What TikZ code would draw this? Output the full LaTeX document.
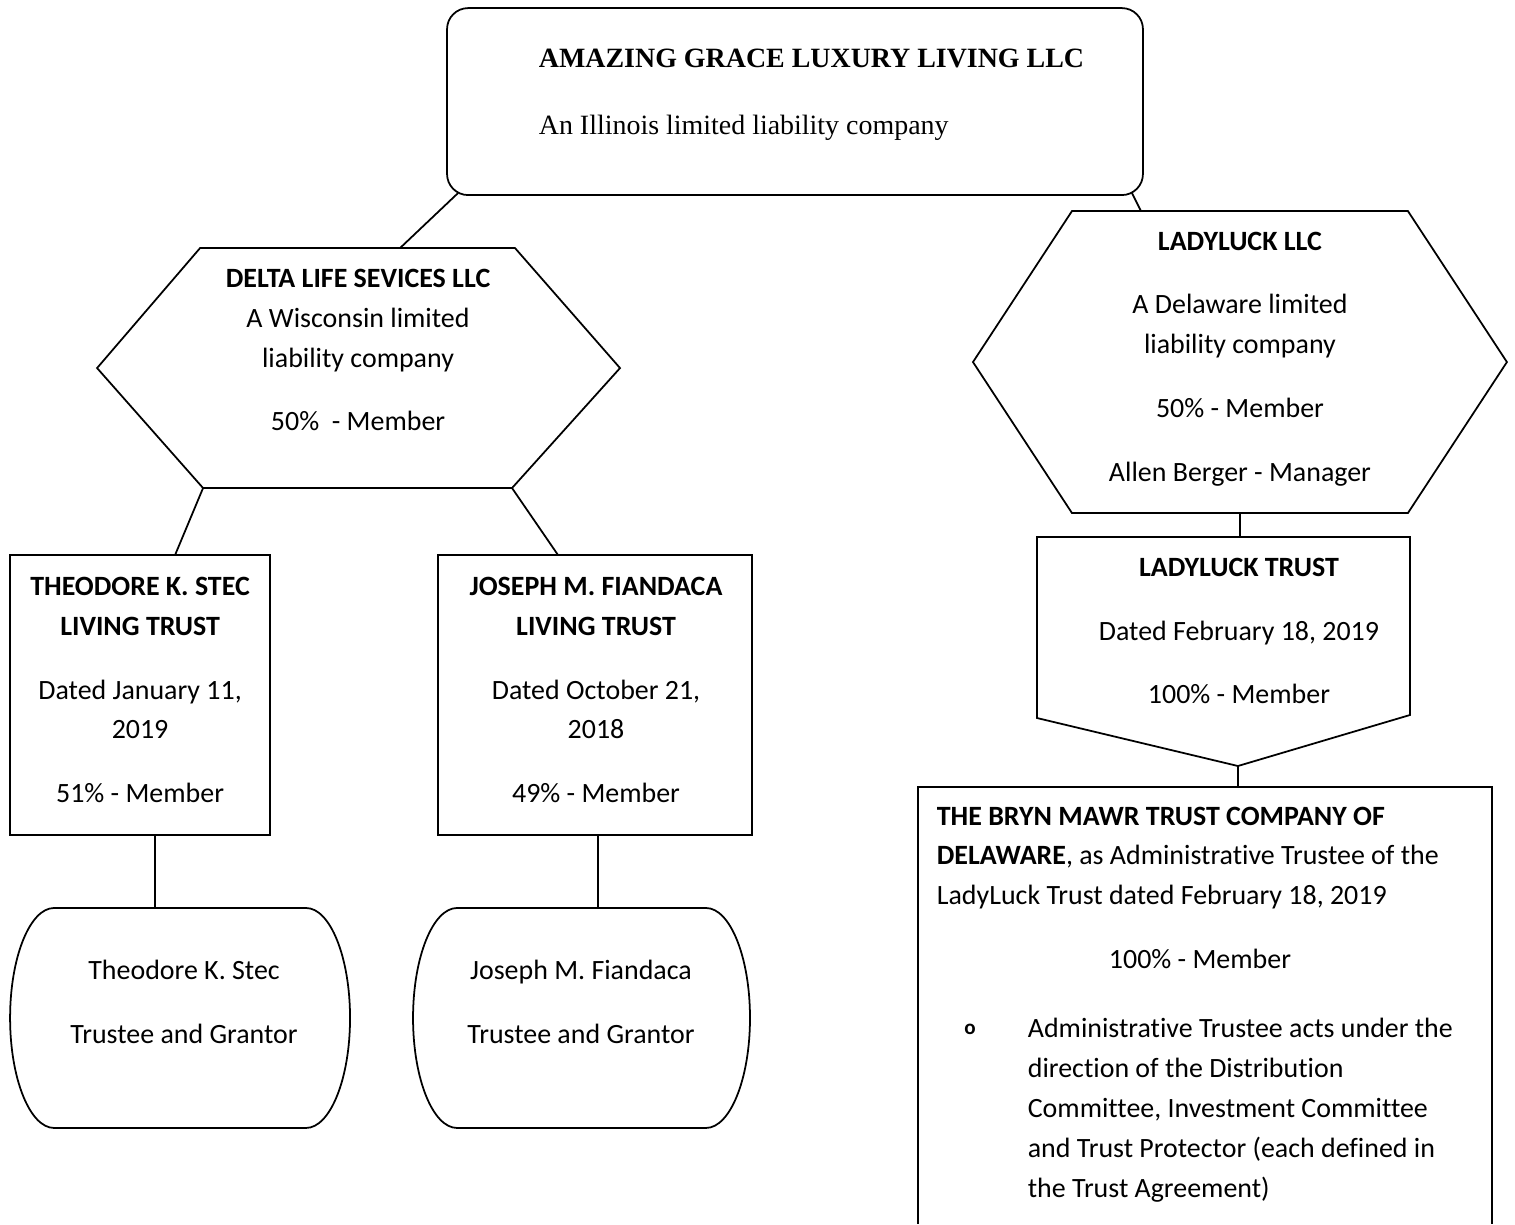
\documentclass[tikz,border=0pt]{standalone}
\usepackage{fontspec}
\setmainfont{Carlito}[Ligatures=NoCommon]
\newfontfamily\timesfont{Liberation Serif}
\usepackage{tikz}
\usetikzlibrary{calc}
\newcommand{\chartsize}{\fontsize{15.9}{22.7}\selectfont}

\begin{document}
\begin{tikzpicture}[x=0.02cm, y=-0.02cm, line width=1,
  boxtext/.style={inner sep=0, align=center, font=\chartsize},
  para/.style={inner sep=0, align=left, anchor=west, font=\chartsize},
  sertext/.style={inner sep=0, anchor=base west, font=\timesfont\chartsize}]

  \draw[white, line width=0.1] (0, 0) rectangle (1515, 1224);

  % Amazing Grace
  \draw[rounded corners=12] (447, 8) rectangle (1143, 195);
  \node[sertext, font=\timesfont\bfseries\chartsize] (agll) at (538, 67) {AMAZING GRACE LUXURY LIVING LLC};
  \node[sertext] (agll-state) at (538, 134) {An Illinois limited liability company};
  \coordinate (agll-sw) at (458, 193);
  \coordinate (agll-se) at (1132, 193);

  % Delta Life
  \draw (200, 248) -- (515, 248) -- (620, 368) -- (512, 488) -- (203, 488) -- (97, 368) -- cycle;
  \node[boxtext] (delta) at (358, 350) {\textbf{DELTA LIFE SEVICES LLC}\\A Wisconsin limited\\liability company\\[13.6pt]50\%\ \ - Member};
  \coordinate (delta-n) at (400, 248);
  \coordinate (delta-sw) at (203, 488);
  \coordinate (delta-se) at (512, 488);

  % Ladyluck LLC
  \draw (1072, 211) -- (1408, 211) -- (1507, 362) -- (1408, 513) -- (1072, 513) -- (973, 362) -- cycle;
  \node[boxtext] (lllc) at (1240, 359) {\textbf{LADYLUCK LLC}\\[13.6pt]A Delaware limited\\liability company\\[13.6pt]50\% - Member\\[13.6pt]Allen Berger - Manager};
  \coordinate (lllc-n) at (1141, 211);
  \coordinate (lllc-s) at (1240, 513);

  % living trusts
  \draw (10, 555) rectangle (270, 835);
  \node[boxtext] (tks) at (140, 690) {\textbf{THEODORE K. STEC}\\\textbf{LIVING TRUST}\\[13.6pt]Dated January 11,\\2019\\[13.6pt]51\% - Member};
  \coordinate (tks-n) at (175, 555);
  \coordinate (tks-s) at (155, 835);

  \draw (438, 555) rectangle (752, 835);
  \node[boxtext] (jmf) at (596, 690) {\textbf{JOSEPH M. FIANDACA}\\\textbf{LIVING TRUST}\\[13.6pt]Dated October 21,\\2018\\[13.6pt]49\% - Member};
  \coordinate (jmf-n) at (558, 555);
  \coordinate (jmf-s) at (598, 835);

  % trustees
  \foreach \l/\r in {10/350, 413/750} {
    \draw ({\l+44}, 908) -- ({\r-44}, 908) .. controls ({\r-20}, 908) and (\r, 957) .. (\r, 1018)
      .. controls (\r, 1079) and ({\r-20}, 1128) .. ({\r-44}, 1128) -- ({\l+44}, 1128)
      .. controls ({\l+20}, 1128) and (\l, 1079) .. (\l, 1018) .. controls (\l, 957) and ({\l+20}, 908) .. cycle;
  }
  \node[boxtext] (tks-role) at (184, 1002) {Theodore K. Stec\\[13.6pt]Trustee and Grantor};
  \node[boxtext] (jmf-role) at (581, 1002) {Joseph M. Fiandaca\\[13.6pt]Trustee and Grantor};
  \coordinate (tks-role-n) at (155, 908);
  \coordinate (jmf-role-n) at (598, 908);

  % Ladyluck trust
  \draw (1037, 537) -- (1410, 537) -- (1410, 715) -- (1238, 766) -- (1037, 718) -- cycle;
  \node[boxtext] (llt) at (1239, 631) {\textbf{LADYLUCK TRUST}\\[13.6pt]Dated February 18, 2019\\[13.6pt]100\% - Member};
  \coordinate (llt-n) at (1240, 537);
  \coordinate (llt-s) at (1238, 766);

  % Bryn Mawr
  \draw (918, 1224) -- (918, 787) -- (1492, 787) -- (1492, 1224);
  \node[para] (bmtc) at (936, 858) {\textbf{THE BRYN MAWR TRUST COMPANY OF}\\\textbf{DELAWARE}, as Administrative Trustee of the\\LadyLuck Trust dated February 18, 2019};
  \node[boxtext, anchor=base] (bmtc-share) at (1200, 969) {100\% - Member};
  \node[boxtext, anchor=base, font=\bfseries\fontsize{12}{14}\selectfont] (bullet) at (970, 1035) {o};
  \node[para] (bmtc-note) at (1027, 1110) {Administrative Trustee acts under the\\direction of the Distribution\\Committee, Investment Committee\\and Trust Protector (each defined in\\the Trust Agreement)};
  \coordinate (bmtc-n) at (1238, 787);

  % connectors
  \draw (agll-sw) -- (delta-n);
  \draw (agll-se) -- (lllc-n);
  \draw (delta-sw) -- (tks-n);
  \draw (delta-se) -- (jmf-n);
  \draw (tks-s) -- (tks-role-n);
  \draw (jmf-s) -- (jmf-role-n);
  \draw (lllc-s) -- (llt-n);
  \draw (llt-s) -- (bmtc-n);

\end{tikzpicture}
\end{document}
